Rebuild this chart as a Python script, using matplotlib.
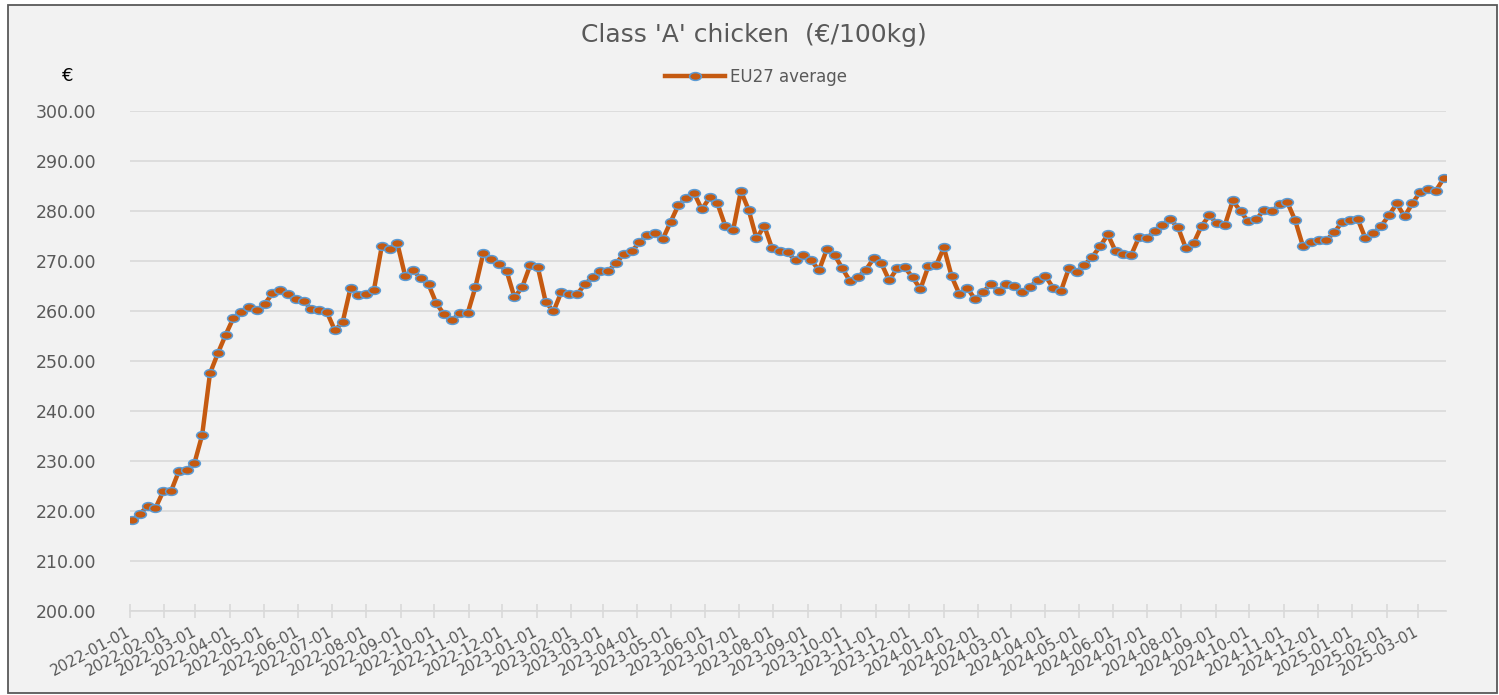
import pandas as pd
import matplotlib
matplotlib.use('Agg')
import matplotlib.pyplot as plt
import matplotlib.dates as mdates
from matplotlib.patches import Rectangle
from matplotlib.path import Path
from matplotlib.ticker import MultipleLocator, FormatStrFormatter

# weekly EU27 average price, Class 'A' chicken (EUR/100kg)
first_week = '2022-01-03'
eu27_average = [
    218.1, 219.4, 220.9, 220.5, 223.9, 223.9, 227.9, 228.2, 229.5, 235.2,
    247.5, 251.5, 255.2, 258.6, 259.7, 260.7, 260.1, 261.4, 263.5, 264.2,
    263.3, 262.3, 262.0, 260.3, 260.1, 259.7, 256.1, 257.8, 264.6, 263.1,
    263.3, 264.2, 272.9, 272.3, 273.5, 267.0, 268.2, 266.5, 265.3, 261.5,
    259.3, 258.2, 259.5, 259.5, 264.8, 271.5, 270.3, 269.3, 268.0, 262.7,
    264.8, 269.1, 268.7, 261.8, 259.9, 263.8, 263.3, 263.3, 265.3, 266.8,
    268.0, 268.0, 269.5, 271.4, 271.9, 273.7, 275.2, 275.5, 274.4, 277.8,
    281.2, 282.5, 283.6, 280.3, 282.7, 281.5, 277.0, 276.1, 284.0, 280.2,
    274.5, 277.0, 272.5, 271.9, 271.7, 270.1, 271.2, 270.2, 268.1, 272.3,
    271.2, 268.5, 265.9, 266.8, 268.2, 270.5, 269.5, 266.1, 268.5, 268.7,
    266.7, 264.4, 268.9, 269.1, 272.7, 266.9, 263.3, 264.6, 262.3, 263.7,
    265.4, 264.0, 265.4, 265.0, 263.7, 264.8, 266.1, 267.0, 264.6, 264.0,
    268.5, 267.8, 269.2, 270.8, 272.9, 275.3, 271.9, 271.4, 271.2, 274.8,
    274.6, 275.9, 277.2, 278.3, 276.7, 272.5, 273.6, 277.0, 279.1, 277.5,
    277.2, 282.1, 279.9, 277.9, 278.3, 280.2, 279.9, 281.3, 281.7, 278.1,
    272.9, 273.8, 274.1, 274.2, 275.7, 277.8, 278.2, 278.4, 274.5, 275.5,
    277.0, 279.1, 281.5, 278.9, 281.5, 283.8, 284.3, 284.0, 286.5,
]
weeks = pd.date_range(first_week, periods=len(eu27_average), freq='7D')

grey_text = '#595959'
grid_col = '#D9D9D9'

plt.rcParams['font.family'] = ['DejaVu Sans']

fig = plt.figure(figsize=(14.99, 6.95), dpi=100, facecolor='white')
fig.patches.append(Rectangle((8 / 1499, 2 / 695), 1489 / 1499, 688 / 695,
                             transform=fig.transFigure, facecolor='#F2F2F2',
                             edgecolor='#595959', linewidth=1.3, zorder=-10))

ax = fig.add_axes([0.0865, 0.1209, 0.878, 0.7194])
ax.set_facecolor('none')

# slightly flattened marker, like the Excel rendering
circ = Path.unit_circle()
ellipse = Path(circ.vertices * [1.0, 0.66], circ.codes)

ax.plot(weeks, eu27_average, color='#C55A11', linewidth=3.2,
        marker=ellipse, markersize=8.5, markerfacecolor='#C55A11',
        markeredgecolor='#5B9BD5', markeredgewidth=1.1,
        label='EU27 average', zorder=3)

ax.set_ylim(200, 300)
ax.yaxis.set_major_locator(MultipleLocator(10))
ax.yaxis.set_major_formatter(FormatStrFormatter('%.2f'))
ax.set_xlim(pd.Timestamp('2022-01-01'), weeks[-1] + pd.Timedelta(days=2))
ax.xaxis.set_major_locator(mdates.MonthLocator())
ax.xaxis.set_major_formatter(mdates.DateFormatter('%Y-%m-%d'))

ax.grid(axis='y', color=grid_col, linewidth=1.2)
for side in ['top', 'right', 'left']:
    ax.spines[side].set_visible(False)
ax.spines['bottom'].set_color(grid_col)
ax.spines['bottom'].set_linewidth(1.2)

ax.tick_params(axis='y', length=0, pad=24, labelsize=12.5, labelcolor=grey_text)
ax.tick_params(axis='x', direction='inout', length=10, width=1.2, color=grid_col,
               pad=9, labelsize=11, labelcolor=grey_text)
for lab in ax.get_xticklabels():
    lab.set_rotation(28)
    lab.set_ha('right')
    lab.set_va('center')
    lab.set_rotation_mode('anchor')

fig.text(754 / 1499, 1 - 35 / 695, "Class 'A' chicken  (\u20ac/100kg)",
         ha='center', va='center', fontsize=18, color=grey_text)
fig.text(68 / 1499, 1 - 76 / 695, '\u20ac', ha='center', va='center',
         fontsize=13, color='black')

fig.legend(loc='center', bbox_to_anchor=(756 / 1499, 1 - 77 / 695),
           frameon=False, fontsize=12, labelcolor=grey_text,
           handlelength=3.6, handletextpad=0.3, borderpad=0)

fig.savefig('out.png', dpi=100, facecolor=fig.get_facecolor())
